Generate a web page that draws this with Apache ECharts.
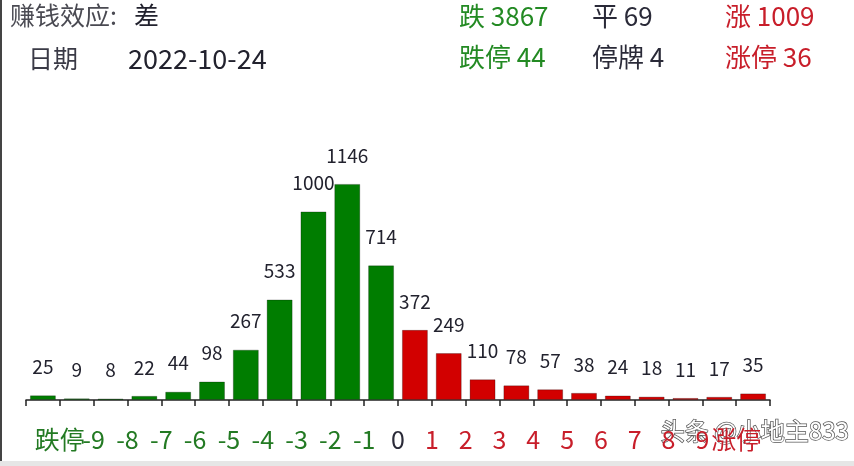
<!DOCTYPE html>
<html>
<head>
	<meta charset="utf-8">
	<style>
		* { margin: 0; padding: 0; }
		html, body { width: 100%; height: 100%; background: #fff; overflow: hidden; }
		#chart { width: 854px; height: 466px; }
	</style>
</head>
<body>
	<div id="chart"></div>
	<script src="https://cdn.jsdelivr.net/npm/echarts@6/dist/echarts.min.js"></script>
	<script>
	// 涨跌分布：每根柱子是两条刻度之间的区间
	var barCounts = [25, 9, 8, 22, 44, 98, 267, 533, 1000, 1146, 714,
		372, 249, 110, 78, 57, 38, 24, 18, 11, 17, 35];
	var edgeLabels = ['跌停', '-9', '-8', '-7', '-6', '-5', '-4', '-3', '-2', '-1', '0',
		'1', '2', '3', '4', '5', '6', '7', '8', '9', '涨停'];
	var barNames = barCounts.map(function(v, i) { return 'b' + i; });

	var headLeft = ['赚钱效应:', '差'];
	var dateText = ['日期', '2022-10-24'];
	var statsRow1 = ['跌 3867', '平 69', '涨 1009'];
	var statsRow2 = ['跌停 44', '停牌 4', '涨停 36'];

	var FONT = '"Noto Sans CJK SC", "Noto Sans", sans-serif';
	var GREEN = '#007d00', RED = '#d20000';
	var zeroEdge = edgeLabels.indexOf('0');

	var txt = function(x, y, text, color, size) {
		return {
			type: 'text', left: x, top: y,
			style: { text: text, fill: color, font: (size || 25) + 'px ' + FONT }
		};
	};

	var chart = echarts.init(document.getElementById('chart'));
	chart.setOption({
		animation: false,
		grid: { left: 26, right: 84, top: 136, bottom: 66 },
		xAxis: [{
			type: 'category',
			data: barNames,
			boundaryGap: true,
			axisLine: { lineStyle: { color: '#222', width: 1.5 } },
			axisTick: { show: true, length: 6, lineStyle: { color: '#222', width: 1.5 } },
			axisLabel: { show: false }
		}, {
			// 只用来把区间边界的文字放在刻度上
			type: 'value',
			position: 'bottom',
			min: 0,
			max: barCounts.length,
			interval: 1,
			axisLine: { show: false },
			axisTick: { show: false },
			splitLine: { show: false },
			axisLabel: {
				margin: 27,
				fontFamily: FONT,
				fontSize: 25,
				showMinLabel: true,
				showMaxLabel: true,
				formatter: function(v) {
					var k = Math.round(v);
					if (k < 1 || k > edgeLabels.length) return '';
					var s = k - 1 < zeroEdge ? 'g' : (k - 1 === zeroEdge ? 'z' : 'r');
					return '{' + s + '|' + edgeLabels[k - 1] + '}';
				},
				rich: {
					g: { color: '#237a23', fontSize: 25, fontFamily: FONT },
					z: { color: '#2a2a38', fontSize: 25, fontFamily: FONT },
					r: { color: '#c81e2a', fontSize: 25, fontFamily: FONT }
				}
			}
		}],
		yAxis: { type: 'value', min: 0, max: 1400, show: false },
		series: [{
			type: 'bar',
			data: barCounts,
			barWidth: 26,
			itemStyle: {
				color: function(p) { return p.dataIndex <= zeroEdge ? GREEN : RED; },
				borderColor: 'rgba(0,0,0,0.25)',
				borderWidth: 1
			},
			label: {
				show: true,
				position: 'top',
				distance: 19,
				color: '#22222e',
				fontFamily: FONT,
				fontSize: 19
			}
		}],
		graphic: [
			{ type: 'rect', left: 0, top: 0, shape: { width: 2, height: 462 }, style: { fill: '#444' } },
			{ type: 'rect', left: 0, top: 461, shape: { width: 854, height: 5 }, style: { fill: '#e6e6e6' } },
			txt(10, 3, headLeft[0], '#4a4a52'),
			txt(134, 3, headLeft[1], '#22222e'),
			txt(28, 46, dateText[0], '#3a3a46'),
			txt(128, 45, dateText[1], '#22222e', 27),
			txt(459, 3, statsRow1[0], '#238a23', 26),
			txt(592, 3, statsRow1[1], '#2a2a38', 26),
			txt(725, 3, statsRow1[2], '#c81e2a', 26),
			txt(459, 44, statsRow2[0], '#238a23', 26),
			txt(592, 44, statsRow2[1], '#2a2a38', 26),
			txt(725, 44, statsRow2[2], '#c81e2a', 26),
			{
				type: 'text', left: 660, top: 418,
				style: {
					text: '头条 @小地主833', fill: '#fff', font: '24px ' + FONT,
					stroke: '#555', lineWidth: 1.5
				}
			}
		]
	});
	</script>
</body>
</html>
